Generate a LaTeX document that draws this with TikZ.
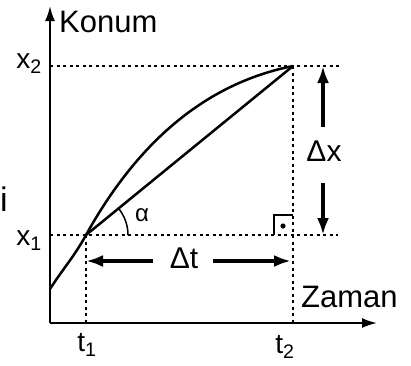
\documentclass[tikz,border=0pt]{standalone}
\usepackage{fontspec}
\setmainfont{Liberation Sans}
\usetikzlibrary{arrows.meta, math}

\begin{document}
\begin{tikzpicture}[x=1pt,y=-1pt,
  axis/.style={line width=2, -{Latex[length=15,width=10]}},
  aux/.style={line width=1.8, dash pattern=on 3pt off 3.5pt},
  len/.style={line width=3.5, -{Latex[length=17,width=12]}},
  lbl/.style={inner sep=0, font=\fontsize{28}{28}\selectfont}]
\tikzmath{
\tA=86; \tB=293; \xA=235; \xB=66; \O=50; \base=323;
}
\useasboundingbox (0,0) rectangle (411,365);

\coordinate (O) at (\O,\base);
\coordinate (ytop) at (\O,6);
\coordinate (xend) at (377,\base);
\coordinate (P) at (\tA,\xA);
\coordinate (Q) at (\tB,\xB);
\coordinate (S) at (\O,289);

% guide lines
\draw[aux] (\O,\xB) -- (342,\xB);
\draw[aux, line width=1.5] (\O,\xA) -- (338,\xA);
\draw[aux] (P) -- (\tA,\base);
\draw[aux] (Q) -- (\tB,\base);

% axes
\draw[axis] (O) -- (ytop);
\draw[axis] (O) -- (xend);
\node[lbl, anchor=west, font=\fontsize{31}{31}\selectfont] (konum) at (59,22) {Konum};
\node[lbl, anchor=west, font=\fontsize{31}{31}\selectfont] (zaman) at (301,297) {Zaman};
\node[lbl] (x2) at (29,64) {x\textsubscript{2}};
\node[lbl] (x1) at (29,241) {x\textsubscript{1}};
\node[lbl] (t1) at (87,345) {t\textsubscript{1}};
\node[lbl] (t2) at (285,347) {t\textsubscript{2}};
\node[lbl, anchor=west, font=\fontsize{34}{34}\selectfont] (cut) at (0,199) {i};

% curve and chord
\draw[line width=2.5, line join=round] (S) .. controls (62,270) and (74,257) .. (P)
  .. controls (136,145) and (203,84) .. (Q);
\draw[line width=2.5] (P) -- (Q);

% angle
\draw[line width=1.5] ([shift={(0:42)}]P) arc[start angle=0, end angle=-39, radius=42];
\node[lbl, font=\fontsize{24}{24}\selectfont] (alpha) at (142,215) {α};

% right angle
\draw[line width=2] (274,\xA) |- (\tB,215);
\fill (283,226) circle (2.6);

% delta x
\coordinate (dxa) at (323,127);
\coordinate (dxb) at (323,183);
\node[lbl, font=\fontsize{30}{30}\selectfont] (dx) at (324,151) {Δx};
\draw[len] (dxa) -- (323,\xB);
\draw[len] (dxb) -- (323,\xA);

% delta t
\coordinate (dta) at (153,261);
\coordinate (dtb) at (213,261);
\node[lbl, font=\fontsize{30}{30}\selectfont] (dt) at (184,258) {Δt};
\draw[len] (dta) -- (\tA,261);
\draw[len] (dtb) -- (291,261);

\end{tikzpicture}
\end{document}
